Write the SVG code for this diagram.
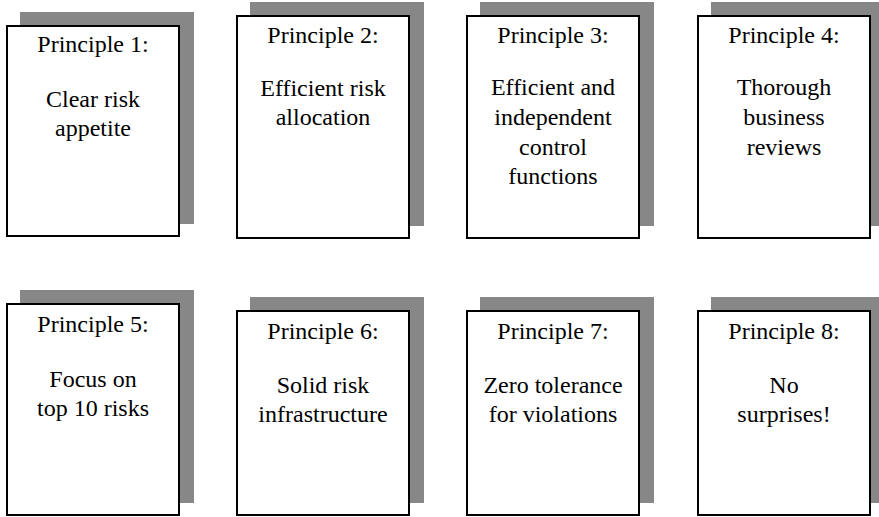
<svg xmlns="http://www.w3.org/2000/svg" width="879" height="517" viewBox="0 0 879 517">
  <style>
    .shadow { fill: #878787; }
    .card { fill: #ffffff; stroke: #000000; stroke-width: 2; }
    .label { font-family: "Liberation Serif", "Times New Roman", serif; font-size: 24px; fill: #000000; text-anchor: middle; }
  </style>
  <rect width="879" height="517" fill="#ffffff"/>

  <!-- Row 1 -->
  <g id="principle-1">
    <rect class="shadow" x="20" y="12" width="174" height="212"/>
    <rect class="card" x="7" y="26" width="172" height="210"/>
    <text class="label" x="93" y="52">Principle 1:</text>
    <text class="label" x="93" y="107">Clear risk</text>
    <text class="label" x="93" y="136">appetite</text>
  </g>

  <g id="principle-2">
    <rect class="shadow" x="250" y="2" width="174" height="224"/>
    <rect class="card" x="237" y="16" width="172" height="222"/>
    <text class="label" x="323" y="43">Principle 2:</text>
    <text class="label" x="323" y="96">Efficient risk</text>
    <text class="label" x="323" y="125">allocation</text>
  </g>

  <g id="principle-3">
    <rect class="shadow" x="480" y="2" width="174" height="224"/>
    <rect class="card" x="467" y="16" width="172" height="222"/>
    <text class="label" x="553" y="43">Principle 3:</text>
    <text class="label" x="553" y="95">Efficient and</text>
    <text class="label" x="553" y="125">independent</text>
    <text class="label" x="553" y="155">control</text>
    <text class="label" x="553" y="184">functions</text>
  </g>

  <g id="principle-4">
    <rect class="shadow" x="711" y="2" width="174" height="224"/>
    <rect class="card" x="698" y="16" width="172" height="222"/>
    <text class="label" x="784" y="43">Principle 4:</text>
    <text class="label" x="784" y="95">Thorough</text>
    <text class="label" x="784" y="125">business</text>
    <text class="label" x="784" y="155">reviews</text>
  </g>

  <!-- Row 2 -->
  <g id="principle-5">
    <rect class="shadow" x="20" y="290" width="174" height="213"/>
    <rect class="card" x="7" y="304" width="172" height="211"/>
    <text class="label" x="93" y="332">Principle 5:</text>
    <text class="label" x="93" y="387">Focus on</text>
    <text class="label" x="93" y="416">top 10 risks</text>
  </g>

  <g id="principle-6">
    <rect class="shadow" x="250" y="297" width="174" height="206"/>
    <rect class="card" x="237" y="311" width="172" height="204"/>
    <text class="label" x="323" y="339">Principle 6:</text>
    <text class="label" x="323" y="393">Solid risk</text>
    <text class="label" x="323" y="422">infrastructure</text>
  </g>

  <g id="principle-7">
    <rect class="shadow" x="480" y="297" width="174" height="206"/>
    <rect class="card" x="467" y="311" width="172" height="204"/>
    <text class="label" x="553" y="339">Principle 7:</text>
    <text class="label" x="553" y="393">Zero tolerance</text>
    <text class="label" x="553" y="422">for violations</text>
  </g>

  <g id="principle-8">
    <rect class="shadow" x="711" y="297" width="174" height="206"/>
    <rect class="card" x="698" y="311" width="172" height="204"/>
    <text class="label" x="784" y="339">Principle 8:</text>
    <text class="label" x="784" y="393">No</text>
    <text class="label" x="784" y="422">surprises!</text>
  </g>

  <!-- The principle cards stand alone; no links between them -->
  <g id="connectors"/>
</svg>
